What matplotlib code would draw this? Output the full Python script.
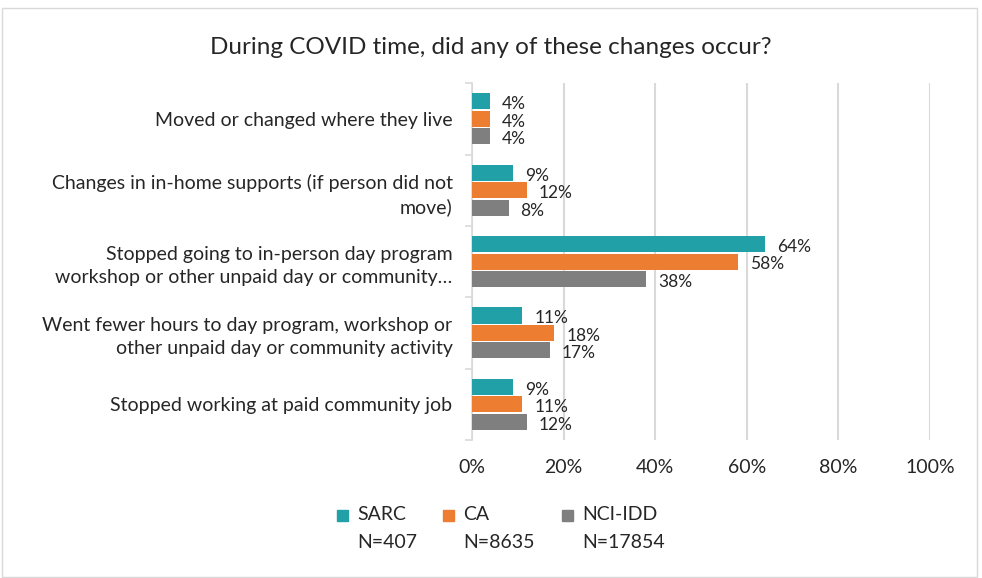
import numpy as np
import matplotlib.pyplot as plt
from matplotlib.patches import Rectangle

plt.rcParams['font.family'] = ['Lato', 'DejaVu Sans']

# data (top to bottom as shown)
categories = [
    "Moved or changed where they live",
    "Changes in in-home supports (if person did not\nmove)",
    "Stopped going to in-person day program\nworkshop or other unpaid day or community\u2026",
    "Went fewer hours to day program, workshop or\nother unpaid day or community activity",
    "Stopped working at paid community job",
]
sarc = [4, 9, 64, 11, 9]
ca = [4, 12, 58, 18, 11]
nci = [4, 8, 38, 17, 12]
series_names = ["SARC", "CA", "NCI-IDD"]
series_n = ["N=407", "N=8635", "N=17854"]
colors = ["#21A0A8", "#ED7D31", "#7F7F7F"]
txt = "#262626"

fig = plt.figure(figsize=(9.82, 5.78), dpi=100)
ax = fig.add_axes([0.4807, 0.2388, 0.4664, 0.6172])

n = len(categories)
y = np.arange(n)
h = 0.245
for i, (vals, col) in enumerate(zip([sarc, ca, nci], colors)):
    pos = y + (i - 1) * h
    ax.barh(pos, vals, height=h * 0.92, color=col, zorder=3)
    for p, v in zip(pos, vals):
        ax.text(v + 2.6, p + 0.04, f"{v}%", va="center", ha="left",
                fontsize=12.5, color=txt)

ax.set_xlim(0, 100)
ax.set_ylim(n - 0.5, -0.5)
ax.set_xticks(np.arange(0, 101, 20))
ax.set_xticklabels([f"{t}%" for t in range(0, 101, 20)], fontsize=14, color=txt)
ax.tick_params(axis="x", length=0, pad=14)
ax.set_yticks(y)
ax.set_yticklabels(categories, fontsize=14, color=txt, linespacing=1.4)
ax.tick_params(axis="y", length=0, pad=14)
ax.set_yticks(np.arange(-0.5, n, 1), minor=True)
ax.tick_params(axis="y", which="minor", length=5, color="#D9D9D9", width=1.2)
ax.grid(axis="x", color="#D9D9D9", linewidth=1.5, zorder=0)
for s in ["top", "right", "bottom"]:
    ax.spines[s].set_visible(False)
ax.spines["left"].set_color("#D9D9D9")
ax.spines["left"].set_linewidth(1.2)

fig.text(0.5, 0.918, "During COVID time, did any of these changes occur?",
         ha="center", va="center", fontsize=17.5, color=txt)

# legend drawn by hand: square + two-line label
leg_x = [337, 443, 562]
for lx, col, name, nn in zip(leg_x, colors, series_names, series_n):
    fig.patches.append(Rectangle((lx / 982, 1 - 521 / 578), 11 / 982, 11 / 578,
                                 transform=fig.transFigure, color=col))
    fig.text((lx + 20) / 982, 1 - 515 / 578, name, ha="left", va="center",
             fontsize=14, color=txt)
    fig.text((lx + 20) / 982, 1 - 542 / 578, nn, ha="left", va="center",
             fontsize=14, color=txt)

fig.patches.append(Rectangle((0.002, 0.002), 0.993, 0.985, transform=fig.transFigure,
                             fill=False, edgecolor="#D9D9D9", linewidth=1))

fig.savefig("out.png", dpi=100)
